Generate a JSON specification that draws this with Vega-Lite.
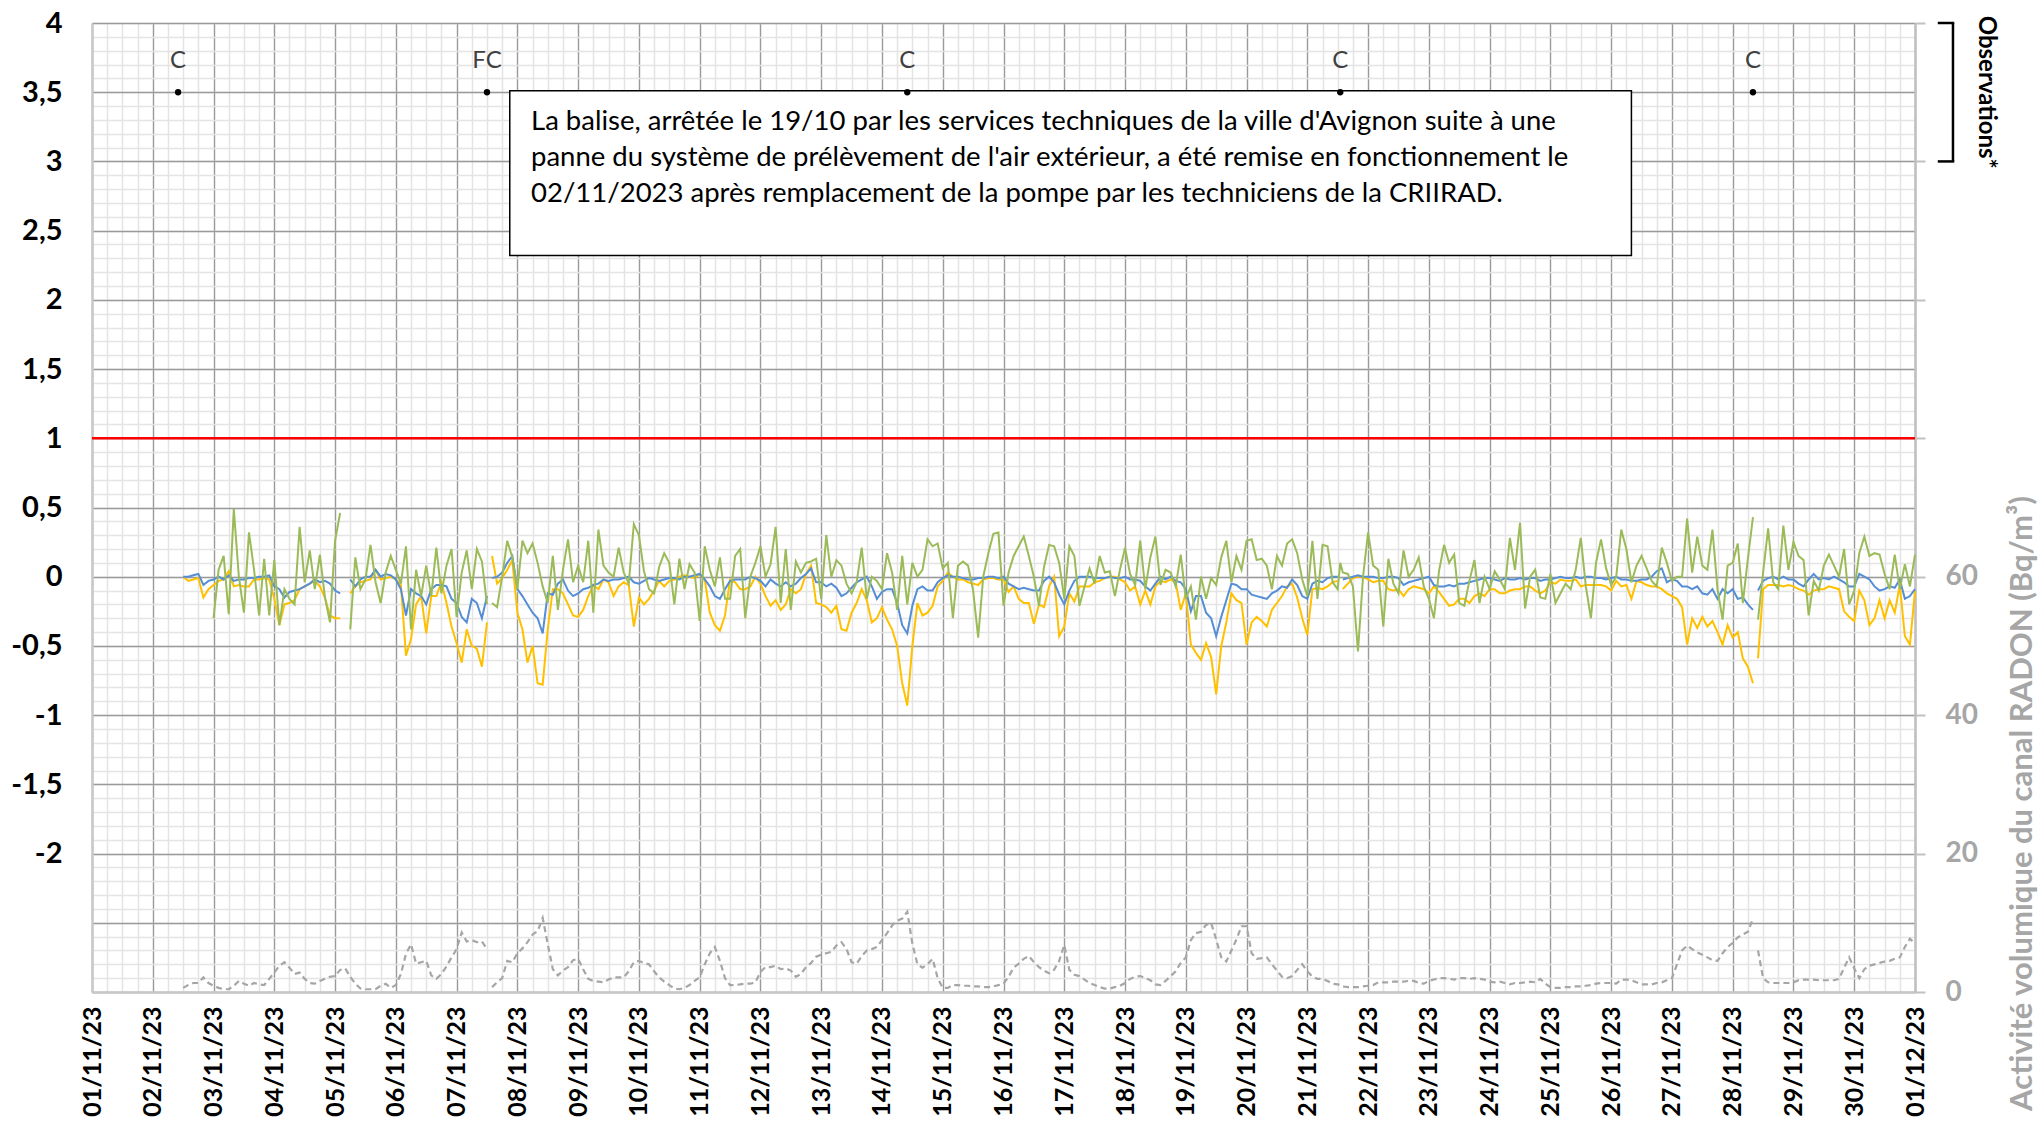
{
"$schema":"https://vega.github.io/schema/vega-lite/v6.json",
"width":1823,"height":969,
"autosize":{"type":"none"},
"padding":{"left":92,"top":23,"right":124,"bottom":129},
"config":{"font":"Lato","view":{"stroke":null}},
"data":{"name":"m"},
"datasets":{"m":[
{"h":36,"b":0,"o":0,"r":0.6},{"h":38,"b":0,"o":-0.03,"r":1.0},{"h":40,"b":0.01,"o":-0.02,"r":1.3},{"h":42,"b":0.02,"o":-0.01,"r":1.3},{"h":44,"b":-0.06,"o":-0.15,"r":2.1},{"h":46,"b":-0.03,"o":-0.09,"r":1.3},
{"h":48,"b":-0.02,"o":-0.06,"g":-0.3,"r":0.9},{"h":50,"b":0,"o":-0.03,"g":0.05,"r":0.6},{"h":52,"b":-0.02,"o":-0.02,"g":0.15,"r":0.4},{"h":54,"b":0.01,"o":0.04,"g":-0.27,"r":0.4},{"h":56,"b":-0.03,"o":-0.07,"g":0.49,"r":0.9},{"h":58,"b":-0.02,"o":-0.06,"g":0,"r":1.6},
{"h":60,"b":-0.02,"o":-0.07,"g":-0.26,"r":1.2},{"h":62,"b":-0.01,"o":-0.07,"g":0.32,"r":0.9},{"h":64,"b":-0.01,"o":-0.02,"g":0.05,"r":1.3},{"h":66,"b":0,"o":-0.02,"g":-0.28,"r":1.1},{"h":68,"b":0,"o":-0.01,"g":0.13,"r":1.0},{"h":70,"b":0.01,"o":-0.02,"g":-0.28,"r":1.9},
{"h":72,"b":-0.07,"o":-0.16,"g":0.12,"r":2.8},{"h":74,"b":-0.09,"o":-0.35,"g":-0.35,"r":3.8},{"h":76,"b":-0.15,"o":-0.2,"g":-0.09,"r":4.3},{"h":78,"b":-0.11,"o":-0.19,"g":-0.16,"r":3.5},{"h":80,"b":-0.1,"o":-0.17,"g":-0.2,"r":2.6},{"h":82,"b":-0.09,"o":-0.09,"g":0.36,"r":2.8},
{"h":84,"b":-0.07,"o":-0.07,"g":-0.04,"r":1.9},{"h":86,"b":-0.05,"o":-0.05,"g":0.19,"r":1.3},{"h":88,"b":-0.02,"o":-0.03,"g":-0.09,"r":1.2},{"h":90,"b":-0.04,"o":-0.07,"g":0.16,"r":1.6},{"h":92,"b":-0.03,"o":-0.15,"g":-0.15,"r":1.9},{"h":94,"b":-0.05,"o":-0.28,"g":-0.33,"r":2.2},
{"h":96,"b":-0.1,"o":-0.3,"g":0.26,"r":2.3},{"h":98,"b":-0.12,"o":-0.3,"g":0.46,"r":3.2},{"h":100,"r":3.4},{"h":102,"b":-0.02,"o":-0.12,"g":-0.38,"r":2.2},{"h":104,"b":-0.07,"o":-0.07,"g":0.14,"r":1.2},{"h":106,"b":-0.02,"o":-0.04,"g":-0.09,"r":0.5},
{"h":108,"b":0,"o":-0.03,"g":-0.02,"r":0.4},{"h":110,"b":0,"o":-0.02,"g":0.23,"r":0.4},{"h":112,"b":0.05,"o":0.05,"g":-0.04,"r":0.4},{"h":114,"b":0,"o":-0.02,"g":-0.19,"r":0.9},{"h":116,"b":0.02,"o":-0.01,"g":0.03,"r":1.2},{"h":118,"b":0.01,"o":0,"g":0.15,"r":0.6},
{"h":120,"b":-0.02,"o":-0.02,"g":0.05,"r":1.0},{"h":122,"b":-0.09,"o":-0.06,"g":-0.05,"r":2.6},{"h":124,"b":-0.28,"o":-0.57,"g":0.22,"r":5.5},{"h":126,"b":-0.09,"o":-0.45,"g":-0.38,"r":6.9},{"h":128,"b":-0.12,"o":-0.2,"g":0.05,"r":4.1},{"h":130,"b":-0.14,"o":-0.14,"g":-0.14,"r":4.3},
{"h":132,"b":-0.2,"o":-0.41,"g":0.08,"r":4.5},{"h":134,"b":-0.09,"o":-0.14,"g":-0.14,"r":2.4},{"h":136,"b":-0.06,"o":-0.14,"g":0.21,"r":1.9},{"h":138,"b":-0.06,"o":-0.04,"g":-0.12,"r":2.6},{"h":140,"b":-0.07,"o":-0.19,"g":0.08,"r":3.7},{"h":142,"b":-0.16,"o":-0.36,"g":0.2,"r":5.0},
{"h":144,"b":-0.19,"o":-0.48,"g":-0.29,"r":6.2},{"h":146,"b":-0.29,"o":-0.62,"g":0.03,"r":8.6},{"h":148,"b":-0.33,"o":-0.38,"g":0.19,"r":7.3},{"h":150,"b":-0.16,"o":-0.5,"g":-0.09,"r":7.5},{"h":152,"b":-0.19,"o":-0.52,"g":0.2,"r":7.2},{"h":154,"b":-0.3,"o":-0.65,"g":0.11,"r":7.3},
{"h":156,"b":-0.14,"o":-0.33,"g":-0.2,"r":6.2},{"h":157},{"h":158,"b":-0.01,"o":0.15,"g":-0.19,"r":0.7},{"h":160,"b":0,"o":-0.05,"g":-0.22,"r":1.4},{"h":162,"b":0.03,"o":-0.01,"g":0,"r":2.0},{"h":164,"b":0.1,"o":0.05,"g":0.26,"r":4.5},{"h":166,"b":0.15,"o":0.12,"g":0.14,"r":4.3},
{"h":168,"b":-0.09,"o":-0.26,"g":-0.09,"r":5.6},{"h":170,"b":-0.14,"o":-0.38,"g":0.26,"r":6.3},{"h":172,"b":-0.2,"o":-0.62,"g":0.17,"r":7.2},{"h":174,"b":-0.26,"o":-0.5,"g":0.24,"r":8.3},{"h":176,"b":-0.3,"o":-0.77,"g":0.1,"r":8.8},{"h":178,"b":-0.41,"o":-0.78,"g":-0.07,"r":10.7},
{"h":180,"b":-0.12,"o":-0.38,"g":-0.19,"r":6.9},{"h":182,"b":-0.13,"o":-0.09,"g":0.15,"r":3.3},{"h":184,"b":-0.05,"o":-0.09,"g":-0.24,"r":2.4},{"h":186,"b":-0.02,"o":-0.12,"g":0.05,"r":3.1},{"h":188,"b":-0.1,"o":-0.2,"g":0.27,"r":3.6},{"h":190,"b":-0.14,"o":-0.28,"g":-0.04,"r":4.6},
{"h":192,"b":-0.12,"o":-0.29,"g":0.08,"r":4.8},{"h":194,"b":-0.09,"o":-0.24,"g":-0.04,"r":3.3},{"h":196,"b":-0.08,"o":-0.14,"g":0.26,"r":1.9},{"h":198,"b":-0.06,"o":-0.06,"g":-0.26,"r":1.6},{"h":200,"b":-0.05,"o":-0.09,"g":0.34,"r":1.5},{"h":202,"b":-0.02,"o":-0.02,"g":0.08,"r":1.4},
{"h":204,"b":-0.03,"o":-0.04,"g":0.03,"r":1.8},{"h":206,"b":-0.02,"o":-0.14,"g":0,"r":2.1},{"h":208,"b":-0.02,"o":-0.07,"g":0.21,"r":2.1},{"h":210,"b":-0.01,"o":-0.04,"g":0.03,"r":2.1},{"h":212,"b":0,"o":-0.06,"g":-0.05,"r":3.0},{"h":214,"b":-0.04,"o":-0.36,"g":0.38,"r":4.3},
{"h":216,"b":-0.05,"o":-0.15,"g":0.3,"r":4.5},{"h":218,"b":-0.03,"o":-0.2,"g":0.04,"r":4.2},{"h":220,"b":-0.01,"o":-0.16,"g":-0.09,"r":4.0},{"h":222,"b":-0.02,"o":-0.1,"g":-0.12,"r":3.0},{"h":224,"b":-0.03,"o":-0.03,"g":0.07,"r":2.1},{"h":226,"b":-0.02,"o":-0.07,"g":0.17,"r":1.5},
{"h":228,"b":-0.01,"o":-0.03,"g":0.1,"r":1.0},{"h":230,"b":-0.01,"o":-0.02,"g":-0.2,"r":0.5},{"h":232,"b":-0.02,"o":0,"g":0.13,"r":0.4},{"h":234,"b":0,"o":0.01,"g":-0.09,"r":0.6},{"h":236,"b":0,"o":0,"g":0.09,"r":1.0},{"h":238,"b":0.01,"o":-0.01,"g":0.03,"r":1.6},
{"h":240,"b":0.02,"o":0.02,"g":-0.32,"r":2.1},{"h":242,"b":-0.02,"o":-0.02,"g":0.22,"r":4.0},{"h":244,"b":-0.07,"o":-0.26,"g":0.05,"r":5.6},{"h":246,"b":-0.14,"o":-0.35,"g":-0.07,"r":6.5},{"h":248,"b":-0.16,"o":-0.39,"g":0.14,"r":4.5},{"h":250,"b":-0.09,"o":-0.28,"g":-0.16,"r":2.0},
{"h":252,"b":-0.03,"o":-0.02,"g":-0.16,"r":1.0},{"h":254,"b":-0.02,"o":-0.04,"g":0.15,"r":1.0},{"h":256,"b":-0.02,"o":-0.09,"g":0.2,"r":1.1},{"h":258,"b":-0.02,"o":-0.09,"g":-0.3,"r":1.2},{"h":260,"b":0,"o":-0.07,"g":0,"r":1.2},{"h":262,"b":-0.01,"o":0,"g":0.1,"r":1.4},
{"h":264,"b":-0.03,"o":-0.05,"g":0.22,"r":2.9},{"h":266,"b":-0.07,"o":-0.14,"g":0,"r":3.6},{"h":268,"b":-0.02,"o":-0.21,"g":0.09,"r":3.6},{"h":270,"b":-0.05,"o":-0.17,"g":0.36,"r":3.8},{"h":272,"b":-0.07,"o":-0.24,"g":-0.19,"r":3.3},{"h":274,"b":-0.04,"o":-0.2,"g":0.2,"r":3.4},
{"h":276,"b":-0.07,"o":-0.09,"g":-0.24,"r":3.1},{"h":278,"b":-0.05,"o":-0.12,"g":0.11,"r":2.2},{"h":280,"b":-0.01,"o":-0.09,"g":0.03,"r":2.6},{"h":282,"b":0.02,"o":0.02,"g":0.1,"r":3.6},{"h":284,"b":0.06,"o":0.08,"g":0.11,"r":4.2},{"h":286,"b":-0.04,"o":-0.19,"g":0.13,"r":5.1},
{"h":288,"b":-0.04,"o":-0.2,"g":-0.16,"r":5.4},{"h":290,"b":-0.07,"o":-0.22,"g":0.3,"r":5.6},{"h":292,"b":-0.05,"o":-0.26,"g":0,"r":5.8},{"h":294,"b":-0.08,"o":-0.21,"g":0.12,"r":6.7},{"h":296,"b":-0.14,"o":-0.38,"g":0.08,"r":7.2},{"h":298,"b":-0.12,"o":-0.39,"g":-0.05,"r":6.2},
{"h":300,"b":-0.08,"o":-0.26,"g":-0.12,"r":4.3},{"h":302,"b":-0.04,"o":-0.19,"g":-0.04,"r":4.1},{"h":304,"b":-0.02,"o":-0.09,"g":0.21,"r":5.2},{"h":306,"b":0,"o":-0.17,"g":-0.16,"r":6.0},{"h":308,"b":-0.07,"o":-0.33,"g":0,"r":6.2},{"h":310,"b":-0.16,"o":-0.3,"g":-0.03,"r":6.5},
{"h":312,"b":-0.11,"o":-0.22,"g":-0.09,"r":7.5},{"h":314,"b":-0.09,"o":-0.31,"g":0.17,"r":8.5},{"h":316,"b":-0.09,"o":-0.38,"g":0.03,"r":9.6},{"h":318,"b":-0.19,"o":-0.5,"g":-0.24,"r":10.3},{"h":320,"b":-0.35,"o":-0.77,"g":0.15,"r":10.6},{"h":322,"b":-0.41,"o":-0.93,"g":-0.2,"r":11.6},
{"h":324,"b":-0.21,"o":-0.5,"g":0.1,"r":7.0},{"h":326,"b":-0.09,"o":-0.19,"g":0,"r":4.0},{"h":328,"b":-0.07,"o":-0.28,"g":0.05,"r":3.5},{"h":330,"b":-0.1,"o":-0.26,"g":0.27,"r":4.0},{"h":332,"b":-0.1,"o":-0.21,"g":0.22,"r":4.8},{"h":334,"b":-0.04,"o":-0.07,"g":0.24,"r":2.0},
{"h":336,"b":-0.01,"o":-0.03,"g":0.06,"r":0.6},{"h":338,"b":0.01,"o":0.03,"g":0.1,"r":0.6},{"h":340,"b":0,"o":0,"g":-0.3,"r":1.0},{"h":342,"b":0,"o":-0.02,"g":0.08,"r":1.0},{"h":344,"b":-0.01,"o":-0.02,"g":0.11,"r":0.9},{"h":346,"b":-0.02,"o":-0.04,"g":0.08,"r":0.9},
{"h":348,"b":-0.02,"o":-0.05,"g":-0.1,"r":0.8},{"h":350,"b":-0.01,"o":-0.06,"g":-0.44,"r":0.8},{"h":352,"b":-0.01,"o":-0.02,"g":0,"r":0.7},{"h":354,"b":0,"o":-0.01,"g":0.17,"r":0.7},{"h":356,"b":0,"o":-0.01,"g":0.31,"r":0.8},{"h":358,"b":-0.01,"o":-0.02,"g":0.32,"r":1.0},
{"h":360,"b":0,"o":-0.02,"g":-0.21,"r":1.2},{"h":362,"b":-0.05,"o":-0.11,"g":0.03,"r":2.2},{"h":364,"b":-0.07,"o":-0.07,"g":0.15,"r":3.5},{"h":366,"b":-0.09,"o":-0.16,"g":0.22,"r":4.1},{"h":368,"b":-0.08,"o":-0.19,"g":0.29,"r":4.8},{"h":370,"b":-0.09,"o":-0.19,"g":0.15,"r":5.2},
{"h":372,"b":-0.1,"o":-0.34,"g":0,"r":4.3},{"h":374,"b":-0.1,"o":-0.2,"g":-0.21,"r":3.6},{"h":376,"b":-0.03,"o":-0.22,"g":0.07,"r":3.1},{"h":378,"b":0,"o":-0.07,"g":0.23,"r":2.7},{"h":380,"b":-0.04,"o":0,"g":0.22,"r":3.2},{"h":382,"b":-0.13,"o":-0.43,"g":0.1,"r":4.5},
{"h":384,"b":-0.2,"o":-0.36,"g":-0.16,"r":6.8},{"h":386,"b":-0.1,"o":-0.12,"g":0.22,"r":3.2},{"h":388,"b":-0.03,"o":-0.18,"g":0.15,"r":2.5},{"h":390,"b":0,"o":-0.07,"g":-0.21,"r":2.3},{"h":392,"b":0,"o":-0.07,"g":-0.07,"r":1.8},{"h":394,"b":0,"o":-0.07,"g":0.06,"r":1.3},
{"h":396,"b":-0.01,"o":-0.04,"g":-0.05,"r":1.0},{"h":398,"b":-0.01,"o":-0.03,"g":0.15,"r":0.7},{"h":400,"b":-0.01,"o":-0.01,"g":0.03,"r":0.5},{"h":402,"b":0,"o":0,"g":0.04,"r":0.5},{"h":404,"b":-0.01,"o":0,"g":-0.14,"r":0.7},{"h":406,"b":-0.01,"o":-0.02,"g":0.05,"r":0.9},
{"h":408,"b":0,"o":-0.04,"g":0.21,"r":1.3},{"h":410,"b":-0.02,"o":-0.1,"g":0.02,"r":1.9},{"h":412,"b":-0.02,"o":-0.07,"g":-0.06,"r":2.2},{"h":414,"b":-0.03,"o":-0.2,"g":0.26,"r":2.3},{"h":416,"b":-0.07,"o":-0.1,"g":-0.09,"r":2.0},{"h":418,"b":-0.1,"o":-0.2,"g":0.14,"r":1.7},
{"h":420,"b":-0.05,"o":-0.07,"g":0.29,"r":1.1},{"h":422,"b":0,"o":-0.03,"g":-0.06,"r":1.0},{"h":424,"b":-0.02,"o":-0.04,"g":0.05,"r":1.6},{"h":426,"b":0,"o":-0.02,"g":0.03,"r":2.3},{"h":428,"b":-0.03,"o":-0.04,"g":-0.07,"r":3.0},{"h":430,"b":-0.04,"o":-0.24,"g":0.16,"r":4.2},
{"h":432,"b":-0.09,"o":-0.12,"g":-0.16,"r":5.0},{"h":434,"b":-0.25,"o":-0.49,"g":-0.07,"r":7.5},{"h":436,"b":-0.14,"o":-0.55,"g":-0.31,"r":8.5},{"h":438,"b":-0.14,"o":-0.6,"g":0,"r":8.7},{"h":440,"b":-0.26,"o":-0.48,"g":-0.16,"r":9.7},{"h":442,"b":-0.3,"o":-0.58,"g":-0.01,"r":10.0},
{"h":444,"b":-0.43,"o":-0.85,"g":-0.06,"r":7.6},{"h":446,"b":-0.29,"o":-0.5,"g":0.14,"r":5.0},{"h":448,"b":-0.17,"o":-0.33,"g":0.26,"r":4.4},{"h":450,"b":-0.05,"o":-0.12,"g":-0.04,"r":6.0},{"h":452,"b":-0.06,"o":-0.17,"g":0.15,"r":7.6},{"h":454,"b":-0.09,"o":-0.19,"g":0.05,"r":9.5},
{"h":456,"b":-0.09,"o":-0.49,"g":0.26,"r":9.5},{"h":458,"b":-0.13,"o":-0.33,"g":0.27,"r":5.6},{"h":460,"b":-0.14,"o":-0.29,"g":0.12,"r":4.8},{"h":462,"b":-0.15,"o":-0.32,"g":0.13,"r":4.9},{"h":464,"b":-0.16,"o":-0.36,"g":0.08,"r":5.0},{"h":466,"b":-0.12,"o":-0.24,"g":-0.09,"r":4.0},
{"h":468,"b":-0.1,"o":-0.19,"g":0.15,"r":3.1},{"h":470,"b":-0.07,"o":-0.14,"g":0.08,"r":2.2},{"h":472,"b":-0.08,"o":-0.07,"g":0.24,"r":2.0},{"h":474,"b":-0.02,"o":-0.05,"g":0.27,"r":2.3},{"h":476,"b":-0.06,"o":-0.15,"g":0.17,"r":3.2},{"h":478,"b":-0.14,"o":-0.3,"g":-0.02,"r":4.0},
{"h":480,"b":-0.16,"o":-0.42,"g":-0.14,"r":3.0},{"h":482,"b":-0.05,"o":-0.09,"g":0.26,"r":2.2},{"h":484,"b":-0.03,"o":-0.08,"g":-0.16,"r":1.9},{"h":486,"b":-0.04,"o":-0.09,"g":0.23,"r":1.9},{"h":488,"b":-0.01,"o":-0.07,"g":0.22,"r":1.6},{"h":490,"b":0,"o":-0.04,"g":-0.04,"r":1.2},
{"h":492,"b":0,"o":-0.03,"g":-0.09,"r":1.1},{"h":493,"g":0.1,"r":1.0},{"h":494,"b":-0.02,"o":-0.09,"g":0.03,"r":0.8},{"h":496,"b":-0.01,"o":-0.05,"g":0.02,"r":0.7},{"h":498,"b":0,"o":-0.01,"g":-0.07,"r":0.7},{"h":500,"b":0.01,"o":0,"g":-0.54,"r":0.7},{"h":502,"b":0,"o":0,"g":0,"r":0.8},
{"h":504,"b":0,"o":-0.02,"g":0.32,"r":0.9},{"h":506,"b":0,"o":-0.04,"g":0.08,"r":1.0},{"h":508,"b":-0.01,"o":-0.03,"g":0.05,"r":1.4},{"h":510,"b":-0.01,"o":-0.03,"g":-0.36,"r":1.4},{"h":512,"b":0,"o":-0.09,"g":0.13,"r":1.4},{"h":514,"b":0,"o":-0.1,"g":-0.05,"r":1.5},
{"h":516,"b":-0.01,"o":-0.09,"g":-0.12,"r":1.5},{"h":518,"b":-0.06,"o":-0.14,"g":0.19,"r":1.5},{"h":520,"b":-0.04,"o":-0.09,"g":0,"r":1.6},{"h":522,"b":-0.03,"o":-0.07,"g":0.05,"r":1.6},{"h":524,"b":-0.02,"o":-0.08,"g":0.14,"r":1.3},{"h":526,"b":-0.01,"o":-0.09,"g":-0.07,"r":1.2},
{"h":528,"b":0,"o":-0.12,"g":-0.16,"r":1.6},{"h":530,"b":-0.06,"o":-0.07,"g":-0.3,"r":1.8},{"h":532,"b":-0.07,"o":-0.11,"g":0.04,"r":2.0},{"h":534,"b":-0.07,"o":-0.16,"g":0.23,"r":2.0},{"h":536,"b":-0.06,"o":-0.21,"g":0.1,"r":1.9},{"h":538,"b":-0.07,"o":-0.2,"g":0.16,"r":1.8},
{"h":540,"b":-0.05,"o":-0.16,"g":-0.19,"r":2.0},{"h":542,"b":-0.05,"o":-0.16,"g":-0.21,"r":2.0},{"h":544,"b":-0.04,"o":-0.19,"g":-0.03,"r":1.9},{"h":546,"b":-0.03,"o":-0.14,"g":0.12,"r":2.0},{"h":548,"b":-0.02,"o":-0.12,"g":-0.19,"r":1.9},{"h":550,"b":-0.01,"o":-0.14,"g":0,"r":1.8},
{"h":552,"b":-0.01,"o":-0.09,"g":-0.09,"r":1.5},{"h":554,"b":-0.02,"o":-0.09,"g":0.04,"r":1.4},{"h":556,"b":-0.03,"o":-0.12,"g":-0.02,"r":1.5},{"h":558,"b":-0.01,"o":-0.12,"g":-0.09,"r":1.3},{"h":560,"b":-0.02,"o":-0.1,"g":0.28,"r":1.1},{"h":562,"b":-0.02,"o":-0.09,"g":0.05,"r":1.3},
{"h":564,"b":-0.01,"o":-0.09,"g":0.39,"r":1.3},{"h":566,"b":-0.02,"o":-0.07,"g":-0.23,"r":1.4},{"h":568,"b":-0.01,"o":-0.07,"g":0,"r":1.5},{"h":570,"b":-0.01,"o":-0.1,"g":0.05,"r":1.4},{"h":572,"b":-0.03,"o":-0.12,"g":-0.15,"r":1.9},{"h":574,"b":-0.02,"o":-0.1,"g":-0.16,"r":1.2},
{"h":576,"b":-0.02,"o":-0.04,"g":0.02,"r":0.7},{"h":578,"b":-0.01,"o":-0.05,"g":-0.19,"r":0.6},{"h":580,"b":0,"o":-0.02,"g":-0.12,"r":0.6},{"h":582,"b":-0.01,"o":-0.03,"g":-0.05,"r":0.7},{"h":584,"b":-0.01,"o":-0.03,"g":-0.09,"r":0.7},{"h":586,"b":0,"o":-0.02,"g":0.05,"r":0.8},
{"h":588,"b":-0.01,"o":-0.07,"g":0.28,"r":0.8},{"h":590,"b":0,"o":-0.06,"g":-0.07,"r":0.9},{"h":592,"b":0,"o":-0.06,"g":-0.3,"r":1.0},{"h":594,"b":-0.01,"o":-0.06,"g":0.1,"r":1.2},{"h":596,"b":-0.01,"o":-0.06,"g":0.27,"r":1.3},{"h":598,"b":-0.02,"o":-0.07,"g":0.06,"r":1.3},
{"h":600,"b":-0.01,"o":-0.1,"g":-0.06,"r":1.3},{"h":602,"b":0,"o":-0.03,"g":0,"r":1.2},{"h":604,"b":-0.02,"o":-0.07,"g":0.34,"r":1.8},{"h":606,"b":-0.02,"o":-0.06,"g":0.2,"r":1.8},{"h":608,"b":-0.03,"o":-0.16,"g":-0.04,"r":1.7},{"h":610,"b":-0.03,"o":-0.03,"g":0.08,"r":1.4},
{"h":612,"b":-0.02,"o":-0.04,"g":0.15,"r":1.1},{"h":614,"b":-0.02,"o":-0.06,"g":0.06,"r":1.1},{"h":616,"b":0,"o":-0.07,"g":-0.03,"r":1.1},{"h":618,"b":0.04,"o":-0.07,"g":-0.07,"r":1.3},{"h":620,"b":0.06,"o":-0.09,"g":0.21,"r":1.4},{"h":622,"b":-0.04,"o":-0.12,"g":0.1,"r":1.7},
{"h":624,"b":-0.02,"o":-0.14,"g":-0.03,"r":2.0},{"h":626,"b":-0.03,"o":-0.16,"g":0,"r":4.0},{"h":628,"b":-0.07,"o":-0.22,"g":0,"r":6.0},{"h":630,"b":-0.07,"o":-0.49,"g":0.42,"r":6.7},{"h":632,"b":-0.09,"o":-0.3,"g":0.03,"r":6.2},{"h":634,"b":-0.07,"o":-0.37,"g":0.29,"r":5.7},
{"h":636,"b":-0.12,"o":-0.29,"g":0.08,"r":5.4},{"h":638,"b":-0.13,"o":-0.36,"g":0.05,"r":5.0},{"h":640,"b":-0.09,"o":-0.32,"g":0.34,"r":4.6},{"h":642,"b":-0.16,"o":-0.4,"g":-0.09,"r":4.5},{"h":644,"b":-0.09,"o":-0.49,"g":-0.31,"r":5.6},{"h":646,"b":-0.12,"o":-0.35,"g":0.08,"r":6.5},
{"h":648,"b":-0.09,"o":-0.44,"g":0.1,"r":7.1},{"h":650,"b":-0.16,"o":-0.4,"g":0.24,"r":7.9},{"h":652,"b":-0.15,"o":-0.59,"g":-0.19,"r":8.3},{"h":654,"b":-0.2,"o":-0.65,"g":0.13,"r":8.7},{"h":656,"b":-0.24,"o":-0.77,"g":0.43,"r":10.6},{"h":657},
{"h":658,"b":-0.1,"o":-0.59,"g":-0.31,"r":6.0},{"h":660,"b":-0.03,"o":-0.09,"g":0.03,"r":2.0},{"h":662,"b":-0.01,"o":-0.06,"g":0.35,"r":1.4},{"h":664,"b":0,"o":-0.06,"g":-0.04,"r":1.3},{"h":666,"b":-0.02,"o":-0.06,"g":-0.09,"r":1.3},{"h":668,"b":0,"o":-0.07,"g":0.37,"r":1.3},
{"h":670,"b":-0.02,"o":-0.06,"g":0.05,"r":1.3},{"h":672,"b":-0.02,"o":-0.07,"g":0.25,"r":1.4},{"h":674,"b":-0.05,"o":-0.09,"g":0.15,"r":1.7},{"h":676,"b":-0.07,"o":-0.1,"g":0.12,"r":1.8},{"h":678,"b":-0.02,"o":-0.13,"g":-0.28,"r":1.8},{"h":680,"b":0.02,"o":-0.1,"g":-0.03,"r":1.8},
{"h":682,"b":-0.02,"o":-0.09,"g":-0.1,"r":1.7},{"h":684,"b":-0.01,"o":-0.09,"g":0.08,"r":1.7},{"h":686,"b":-0.02,"o":-0.07,"g":0.16,"r":1.7},{"h":688,"b":0,"o":-0.08,"g":0.08,"r":1.7},{"h":690,"b":-0.02,"o":-0.09,"g":0,"r":1.9},{"h":692,"b":-0.04,"o":-0.25,"g":0.2,"r":3.5},
{"h":694,"b":-0.07,"o":-0.29,"g":-0.2,"r":5.0},{"h":696,"b":-0.07,"o":-0.32,"g":-0.1,"r":3.4},{"h":698,"b":0.02,"o":-0.1,"g":0.17,"r":2.0},{"h":700,"b":0,"o":-0.17,"g":0.29,"r":3.3},{"h":702,"b":-0.02,"o":-0.35,"g":0.15,"r":3.8},{"h":704,"b":-0.07,"o":-0.3,"g":0.17,"r":4.0},
{"h":706,"b":-0.1,"o":-0.17,"g":0.16,"r":4.2},{"h":708,"b":-0.09,"o":-0.3,"g":0.02,"r":4.4},{"h":710,"b":-0.07,"o":-0.17,"g":-0.09,"r":4.5},{"h":712,"b":-0.08,"o":-0.26,"g":0.16,"r":4.8},{"h":714,"b":-0.02,"o":-0.06,"g":-0.09,"r":5.0},{"h":716,"b":-0.16,"o":-0.43,"g":0.09,"r":6.5},
{"h":718,"b":-0.14,"o":-0.49,"g":-0.07,"r":7.7},{"h":720,"b":-0.09,"o":-0.1,"g":0.16,"r":7.0}
],
"obs":[{"h":34,"v":3.5,"t":"C"},{"h":156,"v":3.5,"t":"FC"},{"h":322,"v":3.5,"t":"C"},{"h":493,"v":3.5,"t":"C"},{"h":656,"v":3.5,"t":"C"}]
},
"layer":[
{"data":{"values":[{}]},"mark":{"type":"point","opacity":0},
 "encoding":{
  "x":{"datum":0,"type":"quantitative","scale":{"domain":[0,720],"nice":false,"zero":false},
   "axis":{"orient":"bottom","values":[0,6,12,18,24,30,36,42,48,54,60,66,72,78,84,90,96,102,108,114,120,126,132,138,144,150,156,162,168,174,180,186,192,198,204,210,216,222,228,234,240,246,252,258,264,270,276,282,288,294,300,306,312,318,324,330,336,342,348,354,360,366,372,378,384,390,396,402,408,414,420,426,432,438,444,450,456,462,468,474,480,486,492,498,504,510,516,522,528,534,540,546,552,558,564,570,576,582,588,594,600,606,612,618,624,630,636,642,648,654,660,666,672,678,684,690,696,702,708,714,720],
    "grid":true,"gridColor":"#e4e4e4","gridWidth":1.5,"labels":false,"ticks":false,"domain":false,"title":null}},
  "y":{"datum":0,"type":"quantitative","scale":{"domain":[-3,4],"nice":false,"zero":false},
   "axis":{"orient":"left","values":[-3,-2.9,-2.8,-2.7,-2.6,-2.5,-2.4,-2.3,-2.2,-2.1,-2,-1.9,-1.8,-1.7,-1.6,-1.5,-1.4,-1.3,-1.2,-1.1,-1,-0.9,-0.8,-0.7,-0.6,-0.5,-0.4,-0.3,-0.2,-0.1,0,0.1,0.2,0.3,0.4,0.5,0.6,0.7,0.8,0.9,1,1.1,1.2,1.3,1.4,1.5,1.6,1.7,1.8,1.9,2,2.1,2.2,2.3,2.4,2.5,2.6,2.7,2.8,2.9,3,3.1,3.2,3.3,3.4,3.5,3.6,3.7,3.8,3.9,4],
    "grid":true,"gridColor":"#e4e4e4","gridWidth":1.5,"labels":false,"ticks":false,"domain":false,"title":null}}}},
{"data":{"values":[{}]},"mark":{"type":"point","opacity":0},
 "encoding":{
  "x":{"datum":0,"type":"quantitative","scale":{"domain":[0,720],"nice":false,"zero":false},
   "axis":{"orient":"bottom","values":[0,24,48,72,96,120,144,168,192,216,240,264,288,312,336,360,384,408,432,456,480,504,528,552,576,600,624,648,672,696,720],
    "grid":true,"gridColor":"#9a9a9a","gridWidth":1.3,"ticks":false,"domain":true,"domainColor":"#c8c8c8","domainWidth":2.5,
    "labelExpr":"timeFormat(datetime(2023, 10, 1 + datum.value / 24), '%d/%m/%y')","labelAngle":270,"labelAlign":"right","labelBaseline":"middle",
    "labelFontSize":25,"labelFontWeight":"bold","labelColor":"#000000","labelPadding":14,"labelOverlap":false,"labelFlush":false,"labelBound":false,"title":null}},
  "y":{"datum":0,"type":"quantitative","scale":{"domain":[-3,4],"nice":false,"zero":false},
   "axis":{"orient":"left","values":[-3,-2.5,-2,-1.5,-1,-0.5,0,0.5,1,1.5,2,2.5,3,3.5,4],
    "grid":true,"gridColor":"#9a9a9a","gridWidth":1.3,"ticks":false,"domain":true,"domainColor":"#c8c8c8","domainWidth":2.5,
    "labelExpr":"datum.value < -2 ? '' : replace(toString(datum.value), '.', ',')",
    "labelFontSize":29,"labelFontWeight":"bold","labelColor":"#000000","labelPadding":30,"labelOverlap":false,"labelFlush":false,"labelBound":false,"title":null}}}},
{"mark":{"type":"line","color":"#a6a6a6","strokeWidth":2.2,"strokeDash":[6,4],"invalid":"break-paths-filter-domains"},
 "encoding":{
  "x":{"field":"h","type":"quantitative","scale":{"domain":[0,720],"nice":false,"zero":false},"axis":null},
  "y":{"field":"r","type":"quantitative","scale":{"domain":[0,140],"nice":false,"zero":false},
   "axis":{"orient":"right","values":[0,20,40,60,80,100,120,140],"labelExpr":"datum.value <= 60 ? datum.label : ''",
    "grid":false,"ticks":true,"tickColor":"#c0c0c0","tickSize":10,"tickWidth":2,"domain":true,"domainColor":"#c0c0c0","domainWidth":2.5,
    "labelFontSize":28,"labelFontWeight":"bold","labelColor":"#a6a6a6","labelPadding":20,"labelOverlap":false,"labelFlush":false,"labelBound":false,
    "title":"Activité volumique du canal RADON (Bq/m³)","titleColor":"#a6a6a6","titleFontSize":31,"titleFontWeight":"bold",
    "titleAngle":270,"titleAlign":"center","titleBaseline":"middle","titleX":107,"titleY":780}}}},
{"mark":{"type":"line","color":"#ffc000","strokeWidth":2,"invalid":"break-paths-filter-domains"},
 "encoding":{"x":{"field":"h","type":"quantitative","scale":{"domain":[0,720],"nice":false,"zero":false},"axis":null},
  "y":{"field":"o","type":"quantitative","scale":{"domain":[-3,4],"nice":false,"zero":false},"axis":null}}},
{"mark":{"type":"line","color":"#558ed5","strokeWidth":2,"invalid":"break-paths-filter-domains"},
 "encoding":{"x":{"field":"h","type":"quantitative","scale":{"domain":[0,720],"nice":false,"zero":false},"axis":null},
  "y":{"field":"b","type":"quantitative","scale":{"domain":[-3,4],"nice":false,"zero":false},"axis":null}}},
{"mark":{"type":"line","color":"#9bbb59","strokeWidth":2,"invalid":"break-paths-filter-domains"},
 "encoding":{"x":{"field":"h","type":"quantitative","scale":{"domain":[0,720],"nice":false,"zero":false},"axis":null},
  "y":{"field":"g","type":"quantitative","scale":{"domain":[-3,4],"nice":false,"zero":false},"axis":null}}},
{"data":{"values":[{}]},"mark":{"type":"rule","color":"#ff0000","strokeWidth":2.5},
 "encoding":{"y":{"datum":1,"type":"quantitative","scale":{"domain":[-3,4],"nice":false,"zero":false},"axis":null}}},
{"data":{"values":[{}]},"mark":{"type":"rect","fill":"#ffffff","stroke":"#000000","strokeWidth":1.5,"clip":false},
 "encoding":{"x":{"datum":165,"type":"quantitative","scale":{"domain":[0,720],"nice":false,"zero":false},"axis":null},"x2":{"datum":608},
  "y":{"datum":3.51,"type":"quantitative","scale":{"domain":[-3,4],"nice":false,"zero":false},"axis":null},"y2":{"datum":2.32}}},
{"data":{"values":[{}]},"mark":{"type":"text","align":"left","baseline":"middle","fontSize":27.5,"lineHeight":36,"color":"#000000","clip":false},
 "encoding":{"x":{"datum":173.4,"type":"quantitative","scale":{"domain":[0,720],"nice":false,"zero":false},"axis":null},
  "y":{"datum":3.285,"type":"quantitative","scale":{"domain":[-3,4],"nice":false,"zero":false},"axis":null},
  "text":{"value":["La balise,  arrêtée le 19/10 par les services  techniques de la ville  d'Avignon suite à une","panne du système de prélèvement de l'air  extérieur, a été remise en fonctionnement le","02/11/2023  après remplacement de la pompe par les techniciens de la CRIIRAD."]}}},
{"data":{"name":"obs"},"mark":{"type":"point","filled":true,"color":"#000000","size":40,"opacity":1},
 "encoding":{"x":{"field":"h","type":"quantitative","scale":{"domain":[0,720],"nice":false,"zero":false},"axis":null},
  "y":{"field":"v","type":"quantitative","scale":{"domain":[-3,4],"nice":false,"zero":false},"axis":null}}},
{"data":{"name":"obs"},"mark":{"type":"text","fontSize":24,"color":"#404040","dy":-31,"baseline":"middle","align":"center"},
 "encoding":{"x":{"field":"h","type":"quantitative","scale":{"domain":[0,720],"nice":false,"zero":false},"axis":null},
  "y":{"field":"v","type":"quantitative","scale":{"domain":[-3,4],"nice":false,"zero":false},"axis":null},"text":{"field":"t"}}},
{"data":{"values":[{}]},"mark":{"type":"rule","color":"#000000","strokeWidth":2.5,"clip":false},
 "encoding":{"x":{"datum":735,"type":"quantitative","scale":{"domain":[0,720],"nice":false,"zero":false},"axis":null},
  "y":{"datum":4,"type":"quantitative","scale":{"domain":[-3,4],"nice":false,"zero":false},"axis":null},"y2":{"datum":3}}},
{"data":{"values":[{"v":4},{"v":3}]},"mark":{"type":"rule","color":"#000000","strokeWidth":2.5,"clip":false},
 "encoding":{"x":{"datum":729,"type":"quantitative","scale":{"domain":[0,720],"nice":false,"zero":false},"axis":null},"x2":{"datum":735.5},
  "y":{"field":"v","type":"quantitative","scale":{"domain":[-3,4],"nice":false,"zero":false},"axis":null}}},
{"data":{"values":[{}]},"mark":{"type":"text","angle":90,"align":"center","baseline":"middle","fontSize":24,"fontWeight":"bold","color":"#000000","clip":false},
 "encoding":{"x":{"datum":748,"type":"quantitative","scale":{"domain":[0,720],"nice":false,"zero":false},"axis":null},
  "y":{"datum":3.5,"type":"quantitative","scale":{"domain":[-3,4],"nice":false,"zero":false},"axis":null},
  "text":{"value":"Observations*"}}}
],
"resolve":{"scale":{"y":"independent"},"axis":{"x":"independent","y":"independent"}}
}
